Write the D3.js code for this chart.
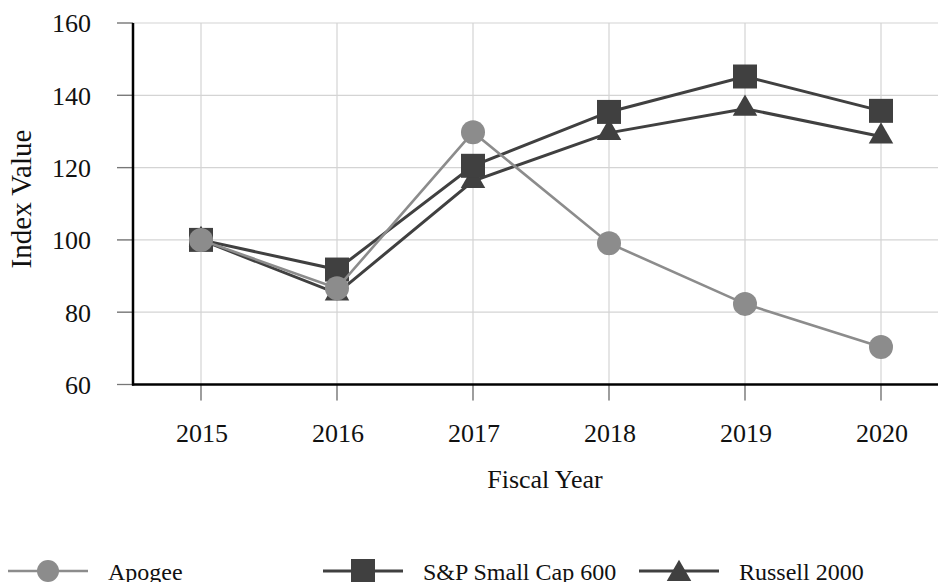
<!DOCTYPE html>
<html>
<head>
<meta charset="utf-8">
<script src="https://cdn.jsdelivr.net/npm/d3@7"></script>
<style>
  body { margin: 0; background: #fff; }
  svg { display: block; font-family: "Liberation Serif", "Times New Roman", serif; }
</style>
</head>
<body>
<div id="chart"></div>
<script>
// dados
var years = ["2015", "2016", "2017", "2018", "2019", "2020"];
var apogee = [100, 86.6, 129.8, 99.1, 82.3, 70.4];
var spSmallCap = [100, 91.8, 120.5, 135.4, 145.2, 135.7];
var russell = [100, 85.2, 116.3, 129.6, 136.3, 128.6];
var yTicks = [60, 80, 100, 120, 140, 160];
var seriesNames = ["Apogee", "S&P Small Cap 600", "Russell 2000"];

var width = 938;
var height = 582;
// area do grafico (o lado direito sai fora da janela, como no original)
var plotL = 133, plotR = 949, plotT = 23, plotB = 384.5;

var grey = "#8c8c8c";
var dark = "#404040";

var x = d3.scalePoint()
    .domain(years)
    .range([plotL, plotR])
    .padding(0.5);

var y = d3.scaleLinear()
    .domain([60, 160])
    .range([plotB, plotT]);

var svg = d3.select('#chart').append('svg')
    .attr('width', width)
    .attr('height', height);

// grelha
svg.append('g')
    .selectAll('line')
    .data(yTicks)
    .enter()
    .append('line')
    .attr('x1', plotL - 16).attr('x2', width)
    .attr('y1', d => y(d)).attr('y2', d => y(d))
    .attr('stroke', '#d4d4d4')
    .attr('stroke-width', 1.2);

svg.append('g')
    .selectAll('line')
    .data(years)
    .enter()
    .append('line')
    .attr('x1', d => x(d)).attr('x2', d => x(d))
    .attr('y1', plotT).attr('y2', plotB + 16)
    .attr('stroke', '#d4d4d4')
    .attr('stroke-width', 1.2);

// ticks pequenos
svg.append('g')
    .selectAll('line')
    .data(yTicks)
    .enter()
    .append('line')
    .attr('x1', plotL - 16).attr('x2', plotL)
    .attr('y1', d => y(d)).attr('y2', d => y(d))
    .attr('stroke', '#777')
    .attr('stroke-width', 1.3);

svg.append('g')
    .selectAll('line')
    .data(years)
    .enter()
    .append('line')
    .attr('x1', d => x(d)).attr('x2', d => x(d))
    .attr('y1', plotB).attr('y2', plotB + 16)
    .attr('stroke', '#777')
    .attr('stroke-width', 1.3);

// eixos
svg.append('line')
    .attr('x1', plotL).attr('x2', plotL)
    .attr('y1', plotT).attr('y2', plotB + 1)
    .attr('stroke', '#000').attr('stroke-width', 2.5);
svg.append('line')
    .attr('x1', plotL - 1).attr('x2', width)
    .attr('y1', plotB).attr('y2', plotB)
    .attr('stroke', '#000').attr('stroke-width', 2.5);

// labels dos ticks
svg.append('g')
    .selectAll('text')
    .data(yTicks)
    .enter()
    .append('text')
    .attr('x', 91)
    .attr('y', d => y(d))
    .attr('dy', '0.36em')
    .attr('text-anchor', 'end')
    .attr('font-size', 26)
    .attr('fill', '#111')
    .text(d => d);

svg.append('g')
    .selectAll('text')
    .data(years)
    .enter()
    .append('text')
    .attr('x', d => x(d) + 1)
    .attr('y', 442)
    .attr('text-anchor', 'middle')
    .attr('font-size', 26)
    .attr('fill', '#111')
    .text(d => d);

svg.append('text')
    .attr('x', 545).attr('y', 488)
    .attr('text-anchor', 'middle')
    .attr('font-size', 26)
    .attr('fill', '#111')
    .text('Fiscal Year');

svg.append('text')
    .attr('transform', 'translate(31,199) rotate(-90)')
    .attr('text-anchor', 'middle')
    .attr('font-size', 29)
    .attr('fill', '#111')
    .text('Index Value');

// linhas
var line = d3.line()
    .x((d, i) => x(years[i]))
    .y(d => y(d));

var sq = d3.symbol().type(d3.symbolSquare).size(576);
var tri = d3.symbol().type(d3.symbolTriangle).size(260);

function drawSeries(vals, color, lw, kind) {
    var g = svg.append('g');
    g.append('path')
        .attr('d', line(vals))
        .attr('fill', 'none')
        .attr('stroke', color)
        .attr('stroke-width', lw);
    var pts = g.selectAll('.pt')
        .data(vals)
        .enter();
    if (kind == 'circle') {
        pts.append('circle')
            .attr('cx', (d, i) => x(years[i]))
            .attr('cy', d => y(d))
            .attr('r', 12)
            .attr('fill', color);
    } else {
        pts.append('path')
            .attr('d', kind == 'square' ? sq : tri)
            .attr('transform', (d, i) => 'translate(' + x(years[i]) + ',' + y(d) + ')')
            .attr('fill', color);
    }
}

drawSeries(russell, dark, 3, 'triangle');
drawSeries(spSmallCap, dark, 3, 'square');
drawSeries(apogee, grey, 2.6, 'circle');

// legenda
var legend = [
    { name: seriesNames[0], x0: 8, color: grey, kind: 'circle', lw: 2.6 },
    { name: seriesNames[1], x0: 323, color: dark, kind: 'square', lw: 3 },
    { name: seriesNames[2], x0: 639, color: dark, kind: 'triangle', lw: 3 }
];
var ly = 571;

var lg = svg.append('g')
    .selectAll('g')
    .data(legend)
    .enter()
    .append('g')
    .attr('transform', d => 'translate(' + d.x0 + ',' + ly + ')');

lg.append('line')
    .attr('x1', 0).attr('x2', 80)
    .attr('stroke', d => d.color)
    .attr('stroke-width', d => d.lw);

lg.each(function (d) {
    var el = d3.select(this);
    if (d.kind == 'circle') {
        el.append('circle').attr('cx', 40).attr('r', 11).attr('fill', d.color);
    } else {
        el.append('path')
            .attr('d', d.kind == 'square' ? sq : tri)
            .attr('transform', 'translate(40,' + (d.kind == 'square' ? 0 : 3) + ')')
            .attr('fill', d.color);
    }
});

lg.append('text')
    .attr('x', 100)
    .attr('y', 9)
    .attr('font-size', 24)
    .attr('fill', '#111')
    .text(d => d.name);
</script>
</body>
</html>
